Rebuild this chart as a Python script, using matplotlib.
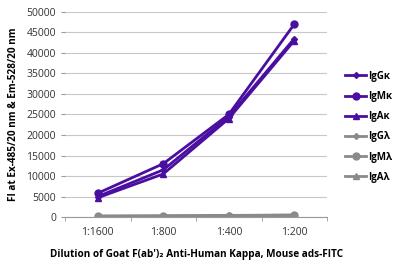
import matplotlib
matplotlib.use("Agg")
import matplotlib.pyplot as plt

# data
dilutions = ["1:1600", "1:800", "1:400", "1:200"]
igg_k = [5000, 11500, 24500, 43500]
igm_k = [5800, 13000, 25000, 47000]
iga_k = [4700, 10500, 24000, 43000]
igg_l = [200, 250, 350, 450]
igm_l = [150, 200, 300, 400]
iga_l = [250, 300, 400, 500]

purple = "#4a0fa0"
grey = "#8a8a8a"

plt.rcParams['font.family'] = ['Open Sans', 'DejaVu Sans']

fig = plt.figure(figsize=(4, 2.65), dpi=100)
ax = fig.add_axes([0.1625, 0.181, 0.655, 0.774])

x = list(range(len(dilutions)))
ax.plot(x, igg_k, color=purple, marker="D", ms=3, lw=2, label="IgG\u03ba")
ax.plot(x, igm_k, color=purple, marker="o", ms=5, lw=2, label="IgM\u03ba")
ax.plot(x, iga_k, color=purple, marker="^", ms=5, lw=2, label="IgA\u03ba")
ax.plot(x, igg_l, color=grey, marker="D", ms=3, lw=2, label="IgG\u03bb")
ax.plot(x, igm_l, color=grey, marker="o", ms=5, lw=2, label="IgM\u03bb")
ax.plot(x, iga_l, color=grey, marker="^", ms=5, lw=2, label="IgA\u03bb")

ax.set_xlim(-0.5, 3.5)
ax.set_ylim(0, 50000)
ax.set_yticks(range(0, 50001, 5000))
ax.set_xticks(x)
ax.set_xticklabels(dilutions)
ax.set_xticks([-0.5, 0.5, 1.5, 2.5, 3.5], minor=True)
ax.tick_params(axis="x", which="major", length=0, labelsize=7.5, pad=7, colors="#333333")
ax.tick_params(axis="x", which="minor", length=3, color="#999999")
ax.tick_params(axis="y", length=3, color="#999999", labelsize=7.5, colors="#333333")
ax.grid(axis="y", color="#c8c8c8", lw=0.8)
ax.set_axisbelow(True)
for s in ["top", "right", "left"]:
    ax.spines[s].set_visible(False)
ax.spines["bottom"].set_color("#999999")

ax.set_ylabel("FI at Ex-485/20 nm & Em-528/20 nm", fontsize=7.2, fontweight="bold", labelpad=5)
ax.set_xlabel("Dilution of Goat F(ab')\u2082 Anti-Human Kappa, Mouse ads-FITC",
              fontsize=7.2, fontweight="bold", labelpad=8)

leg = ax.legend(loc="center left", bbox_to_anchor=(1.035, 0.44), frameon=False,
                fontsize=7, handlelength=2.2, labelspacing=0.95, handletextpad=0.2)
for t in leg.get_texts():
    t.set_fontweight("bold")

fig.savefig("out.png", dpi=100)
